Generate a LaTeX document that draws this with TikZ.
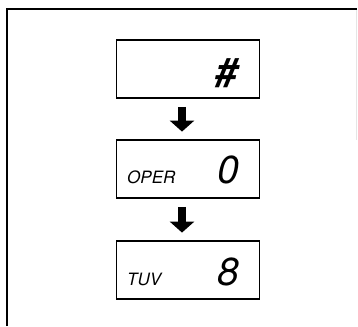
\documentclass[tikz,border=0pt]{standalone}
\usepackage{fontspec}
\setsansfont{TeX Gyre Heros}
\usetikzlibrary{arrows.meta}

\tikzset{
  display/.style={draw, line width=1.8pt, minimum width=143pt, minimum height=58pt, inner sep=0pt},
  keylabel/.style={inner sep=0pt, font=\sffamily\itshape\fontsize{17}{17}\selectfont},
  keydigit/.style={inner sep=0pt, font=\sffamily\itshape\fontsize{39}{39}\selectfont},
  stepdown/.style={line width=8pt, -{Triangle[width=24pt,length=11pt]}, shorten <=8pt, shorten >=7.5pt}
}

\begin{document}
\begin{tikzpicture}[x=1pt,y=-1pt]
\useasboundingbox (0,0) rectangle (358,326);

% frame
\draw[line width=1.6pt] (7,326) -- (7,9) -- (357,9);
\draw[gray!20, line width=0.5pt] (356,10) -- (356,140);

% displays
\node[display] (hash) at (188,69) {};
\node[display] (oper) at (188,169) {};
\node[display] (tuv) at (188,270) {};

\node[keydigit, font=\sffamily\bfseries\itshape\fontsize{40}{40}\selectfont, anchor=base east] (hashsign) at (238,87) {\#};
\node[keylabel, anchor=base west] (opertext) at (127,183) {OPER};
\node[keydigit, anchor=base east] (operdigit) at (239,183) {0};
\node[keylabel, anchor=base west] (tuvtext) at (127,285) {TUV};
\node[keydigit, anchor=base east] (tuvdigit) at (239,285) {8};

% arrows
\draw[stepdown] (hash.south -| 182,0) -- (oper.north -| 182,0);
\draw[stepdown] (oper.south -| 182,0) -- (tuv.north -| 182,0);
\end{tikzpicture}
\end{document}
